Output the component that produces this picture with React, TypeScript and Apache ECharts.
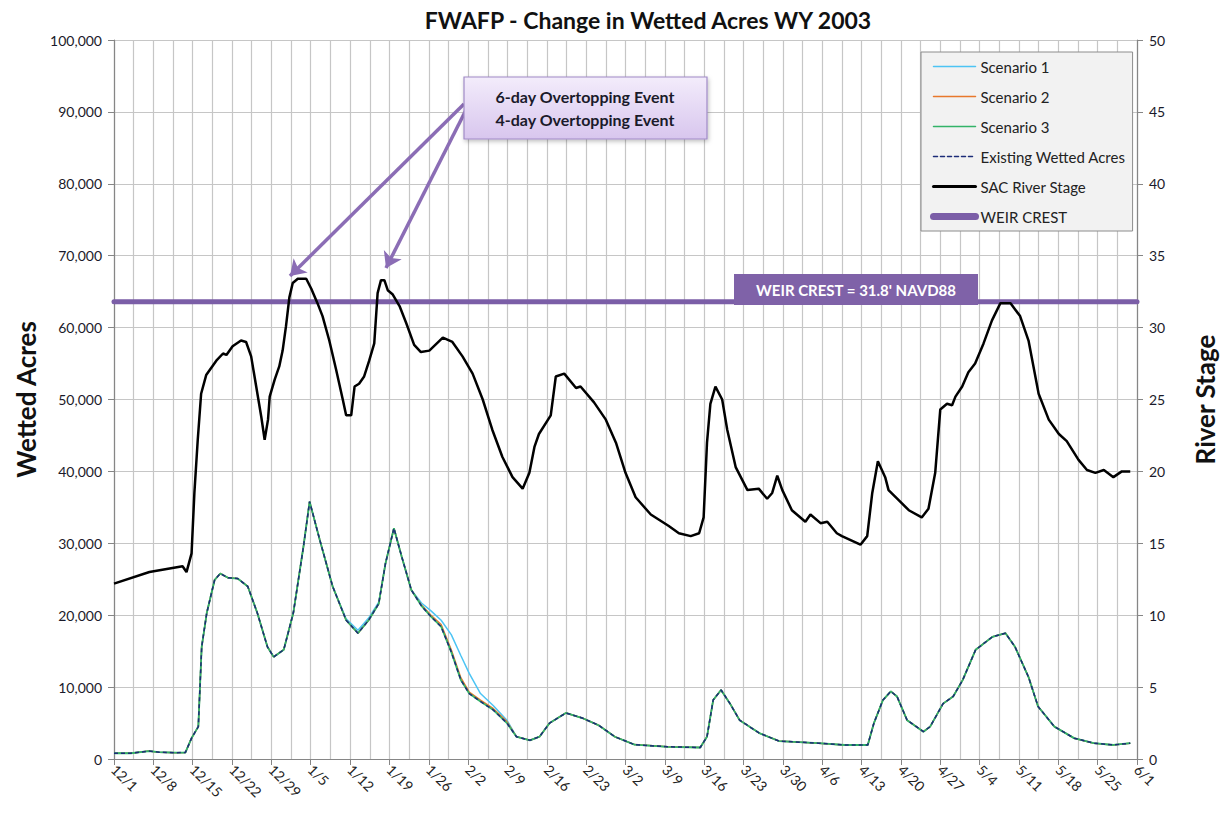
import React, { useEffect, useRef } from 'react';
import * as echarts from 'echarts';

// X axis: days since 12/1/2002
const xTickLabels = ['12/1','12/8','12/15','12/22','12/29','1/5','1/12','1/19','1/26','2/2','2/9','2/16','2/23','3/2','3/9','3/16','3/23','3/30','4/6','4/13','4/20','4/27','5/4','5/11','5/18','5/25','6/1'];

// SAC River Stage (ft)
const stageDays = [0,6.3,12.2,12.9,13.8,14.3,14.9,15.5,16.4,18.2,19.4,20.0,21.1,22.6,23.5,24.4,25.3,26.2,26.8,27.4,27.7,28.6,29.4,30.0,30.6,31.2,31.8,32.7,34.2,35.1,36.2,37.1,38.3,39.5,40.7,41.3,42.2,42.8,43.6,44.5,45.4,46.3,46.9,47.5,48.1,48.7,49.6,50.8,52.0,53.4,54.6,56.1,58.5,60.2,62.0,63.8,65.6,67.3,69.1,70.9,72.7,73.9,74.8,75.6,77.7,78.6,80.1,82.2,83.0,85.4,87.5,89.3,91.0,92.8,95.5,98.7,100.5,102.6,104.1,104.9,105.5,106.1,107.0,108.2,109.1,110.6,112.7,114.7,116.2,117.1,118.0,118.9,120.6,123.0,123.9,125.7,126.9,128.6,129.5,132.8,134.0,134.9,135.9,137.2,137.8,139.6,141.4,143.7,144.9,146.1,147.0,148.2,149.1,149.7,150.9,152.0,153.2,154.7,156.2,157.7,159.5,161.2,162.7,164.5,166.3,168.1,169.5,171.6,173.1,174.6,176.1,177.8,179.3,180.8];
const stageValues = [12.2,13.0,13.4,13.0,14.3,18.5,22.2,25.4,26.7,27.7,28.2,28.1,28.7,29.1,29.0,28.0,25.9,23.8,22.2,23.6,25.2,26.4,27.3,28.4,30.1,32.1,33.1,33.4,33.4,32.7,31.7,30.8,29.1,27.1,25.0,23.9,23.9,25.9,26.1,26.6,27.7,28.9,32.4,33.3,33.3,32.6,32.3,31.5,30.3,28.8,28.3,28.4,29.3,29.0,28.0,26.8,25.0,22.9,21.0,19.6,18.8,19.9,21.7,22.6,23.9,26.6,26.8,25.8,25.9,24.8,23.6,22.0,19.9,18.2,17.0,16.2,15.7,15.5,15.7,16.8,22.0,24.7,25.9,25.0,22.9,20.3,18.7,18.8,18.1,18.5,19.7,18.7,17.3,16.5,17.0,16.4,16.5,15.7,15.5,14.9,15.5,18.5,20.7,19.6,18.7,18.0,17.3,16.8,17.4,19.9,24.3,24.7,24.6,25.2,25.9,26.9,27.5,28.9,30.5,31.7,31.7,30.8,29.1,25.4,23.6,22.6,22.1,20.8,20.1,19.9,20.1,19.6,20.0,20.0];

// Wetted acres
const acreDays = [0,3,6.2,8,10.9,12.7,13.8,15.0,15.6,16.5,17.9,18.9,20.3,22.0,23.8,25.5,27.3,28.4,30.2,31.9,33.7,34.8,36.6,38.9,41.3,43.4,45.3,47.1,48.3,49.8,51.2,52.9,54.7,56.4,58.2,60.0,61.7,63.2,65.2,67.5,69.9,71.6,74.0,75.7,77.5,80.4,83.3,86.2,89.1,92.6,98.5,104.3,105.5,106.6,108.0,109.6,111.3,114.8,118.3,125.3,130.0,134.1,135.2,136.8,138.2,139.3,141.1,144.0,145.2,147.5,149.3,151.0,153.3,156.3,158.6,160.3,162.7,164.4,167.3,170.8,174.3,177.8,180.8];
const existingAcres = [800,800,1100,950,880,900,2900,4500,15600,20300,24900,25800,25200,25100,24000,20300,15600,14200,15200,20300,29500,35800,30500,24000,19300,17500,19300,21600,27200,32100,28100,23500,21300,19800,18400,14900,11000,9100,8000,6800,5000,3100,2600,3100,5000,6400,5700,4700,3100,2000,1700,1600,3100,8200,9600,7700,5400,3600,2500,2200,1950,1950,5000,8200,9400,8700,5400,3800,4500,7700,8700,11000,15200,17000,17500,15600,11400,7300,4500,2900,2200,1950,2200];
const scenario1Acres = [800,800,1100,950,880,900,2900,4500,15600,20300,24900,25800,25200,25100,24000,20300,15600,14200,15200,20300,29500,35800,30500,24000,19500,17900,19600,21800,27200,32100,28100,23500,21700,20600,19300,17300,14400,11900,9100,7400,5400,3100,2600,3100,5000,6400,5700,4700,3100,2000,1700,1600,3100,8200,9600,7700,5400,3600,2500,2200,1950,1950,5000,8200,9400,8700,5400,3800,4500,7700,8700,11000,15200,17000,17500,15600,11400,7300,4500,2900,2200,1950,2200];
const scenario2Acres = [800,800,1100,950,880,900,2900,4500,15600,20300,24900,25800,25200,25100,24000,20300,15600,14200,15200,20300,29500,35800,30500,24000,19300,17500,19300,21600,27200,32100,28100,23500,21400,20000,18700,15200,11300,9300,8200,7000,5200,3100,2600,3100,5000,6400,5700,4700,3100,2000,1700,1600,3100,8200,9600,7700,5400,3600,2500,2200,1950,1950,5000,8200,9400,8700,5400,3800,4500,7700,8700,11000,15200,17000,17500,15600,11400,7300,4500,2900,2200,1950,2200];
const scenario3Acres = [800,800,1100,950,880,900,2900,4500,15600,20300,24900,25800,25200,25100,24000,20300,15600,14200,15200,20300,29500,35800,30500,24000,19300,17500,19300,21600,27200,32100,28100,23500,21300,19800,18400,14900,11000,9100,8000,6800,5000,3100,2600,3100,5000,6400,5700,4700,3100,2000,1700,1600,3100,8200,9600,7700,5400,3600,2500,2200,1950,1950,5000,8200,9400,8700,5400,3800,4500,7700,8700,11000,15200,17000,17500,15600,11400,7300,4500,2900,2200,1950,2200];

const weirDays = [0, 182];
const weirValues = [31.8, 31.8];

const seriesNames = ['Scenario 1','Scenario 2','Scenario 3','Existing Wetted Acres','SAC River Stage','WEIR CREST'];

export default function App() {
  const ref = useRef<HTMLDivElement>(null);
  useEffect(() => {
    const chart = echarts.init(ref.current as HTMLDivElement, null, { renderer: 'svg' });
    const font = 'Lato, "Open Sans", sans-serif';
    const pair = (xs: number[], ys: number[]) => xs.map((x, i) => [x, ys[i]]);
    const grid = '#c6c6c6';
    const axisGray = '#868686';
    const legendLineWidth: Record<string, number> = {
      'Scenario 1': 1.5, 'Scenario 2': 1.5, 'Scenario 3': 1.5,
      'Existing Wetted Acres': 1.5, 'SAC River Stage': 3, 'WEIR CREST': 7,
    };
    const option: any = {
      animation: false,
      backgroundColor: '#ffffff',
      textStyle: { fontFamily: font },
      title: {
        text: 'FWAFP - Change in Wetted Acres WY 2003',
        left: 643,
        textAlign: 'center',
        top: 3,
        textStyle: { fontSize: 23, fontWeight: 'bold', color: '#111', fontFamily: font },
      },
      grid: { left: 114, right: 87, top: 40, bottom: 59 },
      legend: {
        orient: 'vertical',
        left: 921,
        top: 52,
        data: seriesNames.map((n) => ({
          name: n,
          lineStyle: { width: legendLineWidth[n], cap: 'round' },
        })),
        itemWidth: 42,
        itemHeight: 14,
        itemGap: 15,
        padding: [7, 7, 7, 9],
        backgroundColor: '#f2f2f2',
        borderColor: '#8c8c8c',
        borderWidth: 1,
        itemStyle: { opacity: 0 },
        textStyle: { fontSize: 15, color: '#222', fontFamily: font },
      },
      xAxis: {
        type: 'value',
        min: 0,
        max: 182,
        interval: 7,
        axisLine: { show: true, lineStyle: { color: axisGray, width: 1.2 } },
        axisTick: { show: true, length: 6, lineStyle: { color: axisGray } },
        minorTick: { show: false, splitNumber: 2 },
        minorSplitLine: { show: true, lineStyle: { color: grid, width: 1.2 } },
        splitLine: { show: true, lineStyle: { color: grid, width: 1.2 } },
        axisLabel: {
          rotate: -45,
          fontSize: 14,
          color: '#222',
          margin: 8,
          formatter: (v: number) => xTickLabels[Math.round(v / 7)] ?? '',
        },
      },
      yAxis: [
        {
          type: 'value',
          min: 0,
          max: 100000,
          interval: 10000,
          name: 'Wetted Acres',
          nameLocation: 'middle',
          nameGap: 73,
          nameTextStyle: { fontSize: 26, fontWeight: 'bold', color: '#111', fontFamily: font },
          axisLine: { show: true, lineStyle: { color: axisGray, width: 1.2 } },
          axisTick: { show: true, length: 6, lineStyle: { color: axisGray } },
          splitLine: { show: true, lineStyle: { color: grid, width: 1.2 } },
          axisLabel: {
            fontSize: 14,
            color: '#1a1a2a',
            margin: 12,
            formatter: (v: number) => v.toLocaleString('en-US'),
          },
        },
        {
          type: 'value',
          min: 0,
          max: 50,
          interval: 5,
          name: 'River Stage',
          nameLocation: 'middle',
          nameGap: 55,
          nameTextStyle: { fontSize: 26, fontWeight: 'bold', color: '#111', fontFamily: font },
          position: 'right',
          axisLine: { show: true, lineStyle: { color: axisGray, width: 1.2 } },
          axisTick: { show: true, length: 6, lineStyle: { color: axisGray } },
          splitLine: { show: false },
          axisLabel: { fontSize: 14, color: '#1a1a2a', margin: 12 },
        },
      ],
      series: [
        {
          name: 'Scenario 1', type: 'line', yAxisIndex: 0, symbol: 'none',
          data: pair(acreDays, scenario1Acres),
          lineStyle: { color: '#4cc4f4', width: 1.5 }, itemStyle: { color: '#4cc4f4' },
        },
        {
          name: 'Scenario 2', type: 'line', yAxisIndex: 0, symbol: 'none',
          data: pair(acreDays, scenario2Acres),
          lineStyle: { color: '#e8782c', width: 1.5 }, itemStyle: { color: '#e8782c' },
        },
        {
          name: 'Scenario 3', type: 'line', yAxisIndex: 0, symbol: 'none',
          data: pair(acreDays, scenario3Acres),
          lineStyle: { color: '#33b368', width: 1.8 }, itemStyle: { color: '#33b368' },
        },
        {
          name: 'Existing Wetted Acres', type: 'line', yAxisIndex: 0, symbol: 'none',
          data: pair(acreDays, existingAcres),
          lineStyle: { color: '#1c2c78', width: 1.5, type: [4, 3] }, itemStyle: { color: '#1c2c78' },
        },
        {
          name: 'SAC River Stage', type: 'line', yAxisIndex: 1, symbol: 'none',
          data: pair(stageDays, stageValues),
          lineStyle: { color: '#000000', width: 2.5 }, itemStyle: { color: '#000000' },
        },
        {
          name: 'WEIR CREST', type: 'line', yAxisIndex: 1, symbol: 'none',
          data: pair(weirDays, weirValues),
          lineStyle: { color: '#7b5ea7', width: 5, cap: 'round' }, itemStyle: { color: '#7b5ea7' },
          z: 1,
          markLine: {
            silent: true,
            symbol: ['none', 'arrow'],
            symbolSize: 15,
            label: { show: false },
            lineStyle: { color: '#8b6db5', width: 3.5, type: 'solid' },
            data: [
              [{ x: 464, y: 104 }, { x: 290, y: 276 }],
              [{ x: 466, y: 110 }, { x: 386, y: 268 }],
            ],
          },
        },
      ],
      graphic: [
        {
          type: 'rect',
          shape: { x: 464, y: 77, width: 243, height: 62 },
          style: {
            fill: new echarts.graphic.LinearGradient(0, 0, 0, 1, [
              { offset: 0, color: '#f3ecfb' },
              { offset: 1, color: '#d8c6ee' },
            ]),
            stroke: '#a08ac6',
            lineWidth: 1.2,
            shadowBlur: 4,
            shadowColor: 'rgba(0,0,0,0.25)',
            shadowOffsetX: 1,
            shadowOffsetY: 2,
          },
          z: 100,
        },
        {
          type: 'text',
          x: 585, y: 96,
          style: { text: '6-day Overtopping Event', fill: '#1a1a2a', font: `bold 16px ${font}`, align: 'center', verticalAlign: 'middle' },
          z: 101,
        },
        {
          type: 'text',
          x: 585, y: 119,
          style: { text: '4-day Overtopping Event', fill: '#1a1a2a', font: `bold 16px ${font}`, align: 'center', verticalAlign: 'middle' },
          z: 101,
        },
        {
          type: 'rect',
          shape: { x: 734, y: 274, width: 244, height: 31 },
          style: { fill: '#7f62a8' },
          z: 100,
        },
        {
          type: 'text',
          x: 856, y: 290,
          style: { text: "WEIR CREST = 31.8' NAVD88", fill: '#ffffff', font: `bold 15px ${font}`, align: 'center', verticalAlign: 'middle' },
          z: 101,
        },
      ],
    };
    chart.setOption(option);
    return () => chart.dispose();
  }, []);
  return (
    <div
      ref={ref}
      style={{ position: 'fixed', left: 0, top: 0, width: 1226, height: 818, background: '#ffffff' }}
    />
  );
}
